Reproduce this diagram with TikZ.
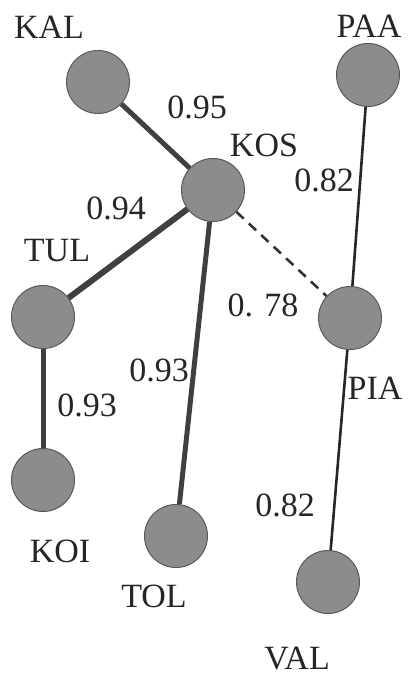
\documentclass[tikz,border=0pt]{standalone}
\usepackage{fontspec}
\setmainfont{Liberation Serif}
\begin{document}
\begin{tikzpicture}[x=1pt,y=-1pt,
  site/.style={circle,draw=black!65,line width=1pt,fill=black!45,minimum size=63pt,inner sep=0pt},
  lbl/.style={text=black!85,font=\fontsize{34}{40}\selectfont,inner sep=0pt},
  strong/.style={draw=black!75,line width=5pt},
  strongest/.style={draw=black!75,line width=6pt},
  weak/.style={draw=black!85,line width=2.6pt},
  weakdash/.style={draw=black!80,line width=2.6pt,dash pattern=on 10pt off 7pt}]
\useasboundingbox (0,0) rectangle (408,680);
% sites
\node[site] (KAL) at (98,82) {};
\node[site] (KOS) at (213,190) {};
\node[site] (PAA) at (368,75) {};
\node[site] (PIA) at (350,318) {};
\node[site] (TUL) at (43,317) {};
\node[site] (KOI) at (43,480) {};
\node[site] (TOL) at (176,536) {};
\node[site] (VAL) at (328,582) {};
% links
\draw[strong] (KAL) -- (KOS);
\draw[strongest] (KOS) -- (TUL);
\draw[strong] (KOS) -- (TOL);
\draw[strong] (TUL) -- (KOI);
\draw[weak] (PAA) -- (PIA);
\draw[weak] (PIA) -- (VAL);
\draw[weakdash] (KOS) -- (PIA);
% site names
\node[lbl] (tKAL) at (49,27) {KAL};
\node[lbl] (tKOS) at (264,145) {KOS};
\node[lbl] (tPAA) at (369,26) {PAA};
\node[lbl] (tTUL) at (57,251) {TUL};
\node[lbl] (tPIA) at (375,388) {PIA};
\node[lbl] (tKOI) at (60,551) {KOI};
\node[lbl] (tTOL) at (154,596) {TOL};
\node[lbl] (tVAL) at (297,659) {VAL};
% link weights
\node[lbl] (w1) at (197,107) {0.95};
\node[lbl] (w2) at (116,208) {0.94};
\node[lbl] (w3) at (324,180) {0.82};
\node[lbl] (w4) at (263,305) {0. 78};
\node[lbl] (w5) at (159,370) {0.93};
\node[lbl] (w6) at (87,405) {0.93};
\node[lbl] (w7) at (285,505) {0.82};
\end{tikzpicture}
\end{document}
